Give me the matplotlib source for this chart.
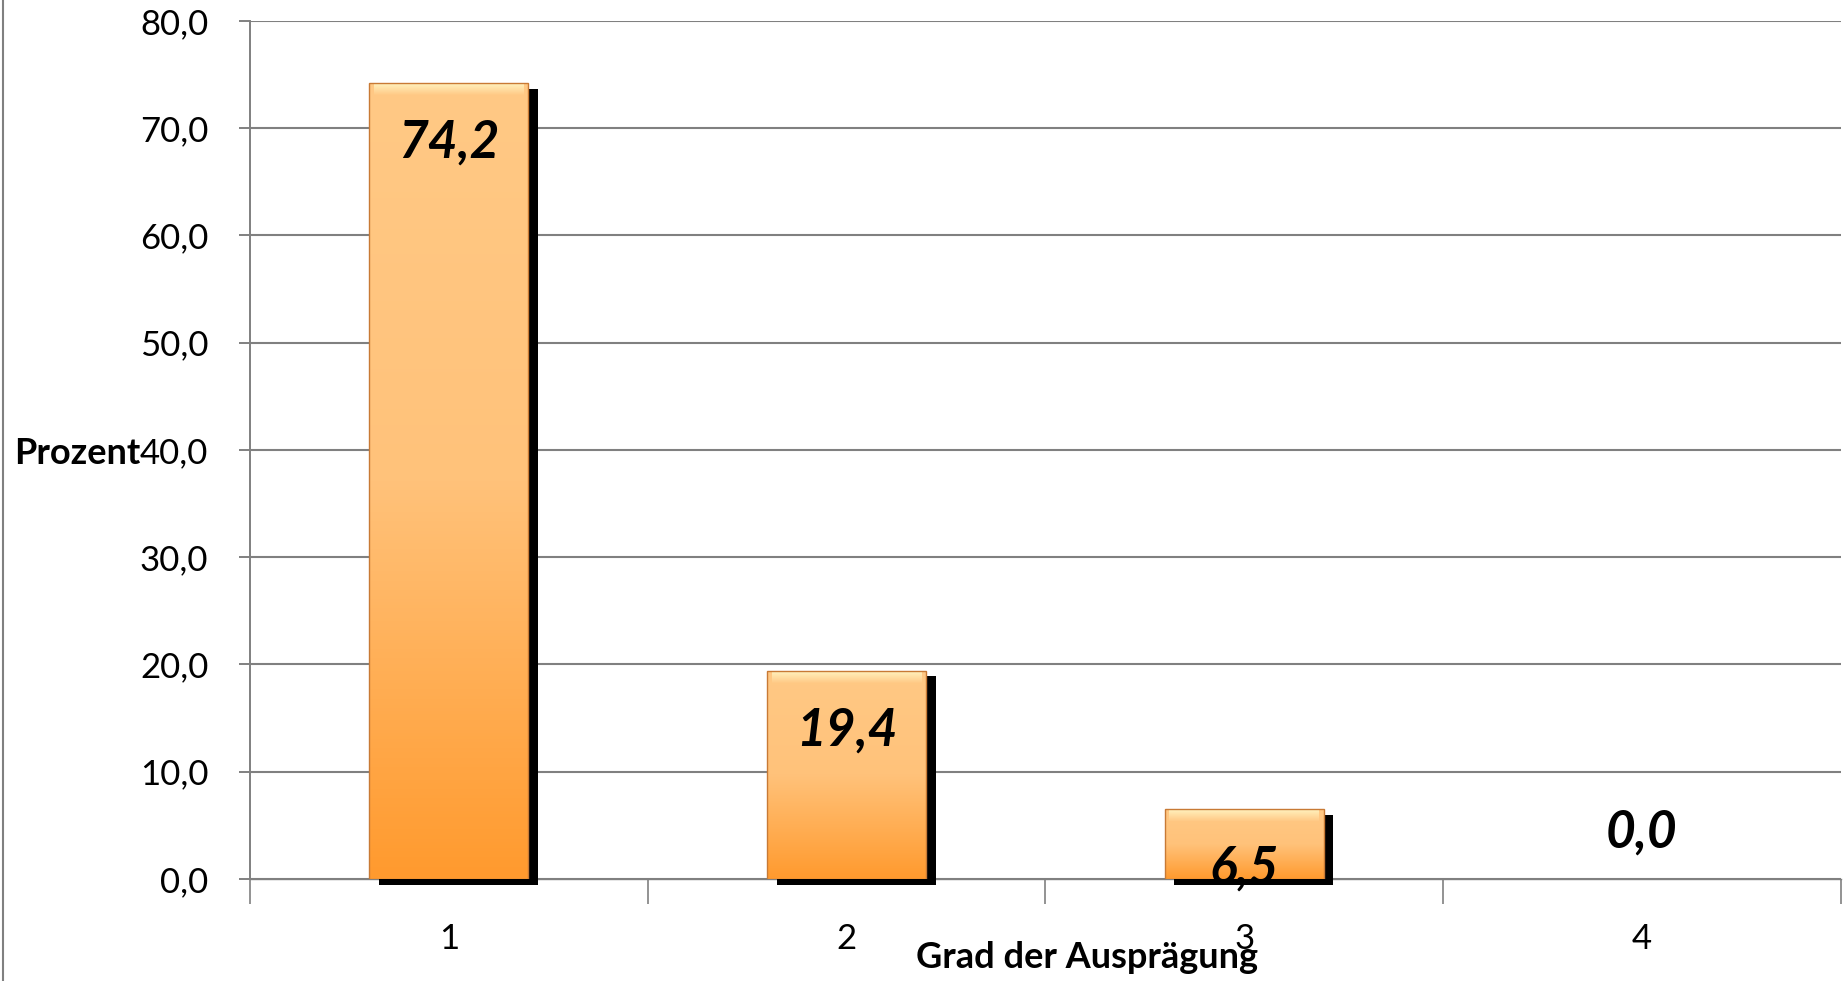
import numpy as np
import matplotlib
matplotlib.use('Agg')
import matplotlib.pyplot as plt
from matplotlib import patheffects
from matplotlib.colors import LinearSegmentedColormap
from matplotlib.lines import Line2D

# data
categories = ['1', '2', '3', '4']
values = [74.2, 19.4, 6.5, 0.0]
y_ticks = [0, 10, 20, 30, 40, 50, 60, 70, 80]

plt.rcParams['font.family'] = ['Lato', 'DejaVu Sans']

fig = plt.figure(figsize=(18.43, 9.81), dpi=100)
ax = fig.add_axes([0.1357, 0.104, 0.863, 0.8746])

x = np.arange(1, len(categories) + 1)
width = 0.40
grid_col = '#808080'
edge_col = '#C87A35'

# bars with a hard black drop shadow (zero bars get no shadow)
shadow = [patheffects.SimplePatchShadow(offset=(7, -4), shadow_rgbFace='black', alpha=1.0),
          patheffects.Normal()]
bars = ax.bar(x, values, width, color='#FFB060', linewidth=0, zorder=3, clip_on=False)
for b, v in zip(bars, values):
    if v > 0:
        b.set_path_effects(shadow)
    else:
        b.set_visible(False)

# vertical gradient fill + top bevel on each bar
body = LinearSegmentedColormap.from_list('body', ['#FF9A2E', '#FFC27A', '#FFC985'])
bevel = LinearSegmentedColormap.from_list('bevel', ['#FFC985', '#FFF3C0'])
grad = np.linspace(0, 1, 256).reshape(-1, 1)
for b, v in zip(bars, values):
    if v <= 0:
        continue
    x0 = b.get_x()
    x1 = x0 + b.get_width()
    im = ax.imshow(grad, extent=[x0, x1, 0, v], origin='lower', aspect='auto', cmap=body, zorder=4)
    im.set_clip_path(b)
    bv = min(1.1, v * 0.3)
    im2 = ax.imshow(grad, extent=[x0 + 0.012, x1 - 0.012, v - bv, v], origin='lower', aspect='auto',
                    cmap=bevel, zorder=5)
    im2.set_clip_path(b)
    ax.add_patch(plt.Rectangle((x0, 0), b.get_width(), v, fill=False, edgecolor=edge_col,
                               linewidth=1.0, zorder=6))

# value labels
for xi, v in zip(x, values):
    lab = f'{v:.1f}'.replace('.', ',')
    off = -43 if v > 0 else 33
    ax.annotate(lab, (xi, v), xytext=(0, off), textcoords='offset points', ha='center', va='center',
                fontsize=37, fontweight='bold', fontstyle='italic', color='black', zorder=10,
                annotation_clip=False)

ax.set_xlim(0.5, len(categories) + 0.5)
ax.set_ylim(0, 80)

ax.set_yticks(y_ticks)
ax.set_yticklabels([f'{t:.1f}'.replace('.', ',') for t in y_ticks], fontsize=25, color='black')
ax.tick_params(axis='y', length=8, width=1.4, color=grid_col, pad=22)

ax.set_xticks(np.arange(0.5, len(categories) + 1, 1.0))
ax.set_xticklabels([])
ax.set_xticks(x, minor=True)
ax.set_xticklabels(categories, minor=True, fontsize=25, color='black')
ax.tick_params(axis='x', which='major', length=18, width=1.2, color=grid_col)
ax.tick_params(axis='x', which='minor', length=0, pad=32)

ax.grid(axis='y', color=grid_col, linewidth=1.5, zorder=1)
ax.set_axisbelow(True)
for s in ['top', 'right']:
    ax.spines[s].set_visible(False)
ax.spines['left'].set_color(grid_col)
ax.spines['left'].set_linewidth(1.4)
ax.spines['bottom'].set_color(grid_col)
ax.spines['bottom'].set_linewidth(1.0)

fig.text(14 / 1843, 1 - 453 / 981, 'Prozent', fontsize=26, fontweight='bold', ha='left', va='center')
fig.text(1087 / 1843, 1 - 958 / 981, 'Grad der Ausprägung', fontsize=26, fontweight='bold',
         ha='center', va='center')

# outer chart frame on the left
fig.add_artist(Line2D([0.0018, 0.0018], [0, 1], color=grid_col, linewidth=1.5))

fig.savefig('out.png', dpi=100)
